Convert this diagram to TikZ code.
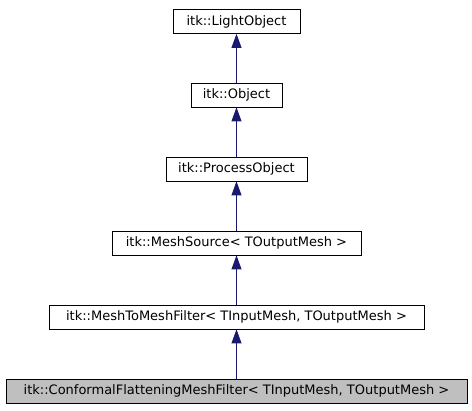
\documentclass[tikz,border=0pt]{standalone}
\usepackage{fontspec}
\setmainfont{DejaVu Sans}
\usetikzlibrary{arrows.meta}
\definecolor{edgeblue}{HTML}{191970}
\definecolor{hlgrey}{HTML}{BFBFBF}
\tikzset{
  cls/.style={draw=black, line width=0.8pt, fill=white, minimum height=24pt, inner sep=0pt, font=\fontsize{13}{15}\selectfont},
  hl/.style={cls, fill=hlgrey},
  inh/.style={draw=edgeblue, line width=0.8pt, -{Triangle[length=14pt,width=10pt,fill=edgeblue]}}
}
\begin{document}
\begin{tikzpicture}[x=1pt,y=-1pt]
\useasboundingbox (0,0) rectangle (472,411);
\node[cls, minimum width=127pt] (light) at (236.5,21.5) {itk::LightObject};
\node[cls, minimum width=91pt] (obj) at (236.5,95) {itk::Object};
\node[cls, minimum width=141pt] (proc) at (236.5,169) {itk::ProcessObject};
\node[cls, minimum width=249pt] (src) at (236.5,243) {itk::MeshSource< TOutputMesh >};
\node[cls, minimum width=375pt] (m2m) at (236.5,317) {itk::MeshToMeshFilter< TInputMesh, TOutputMesh >};
\node[hl, minimum width=461pt] (conf) at (236.5,391) {itk::ConformalFlatteningMeshFilter< TInputMesh, TOutputMesh >};
\draw[inh] (obj) -- (light);
\draw[inh] (proc) -- (obj);
\draw[inh] (src) -- (proc);
\draw[inh] (m2m) -- (src);
\draw[inh] (conf) -- (m2m);
\end{tikzpicture}
\end{document}
